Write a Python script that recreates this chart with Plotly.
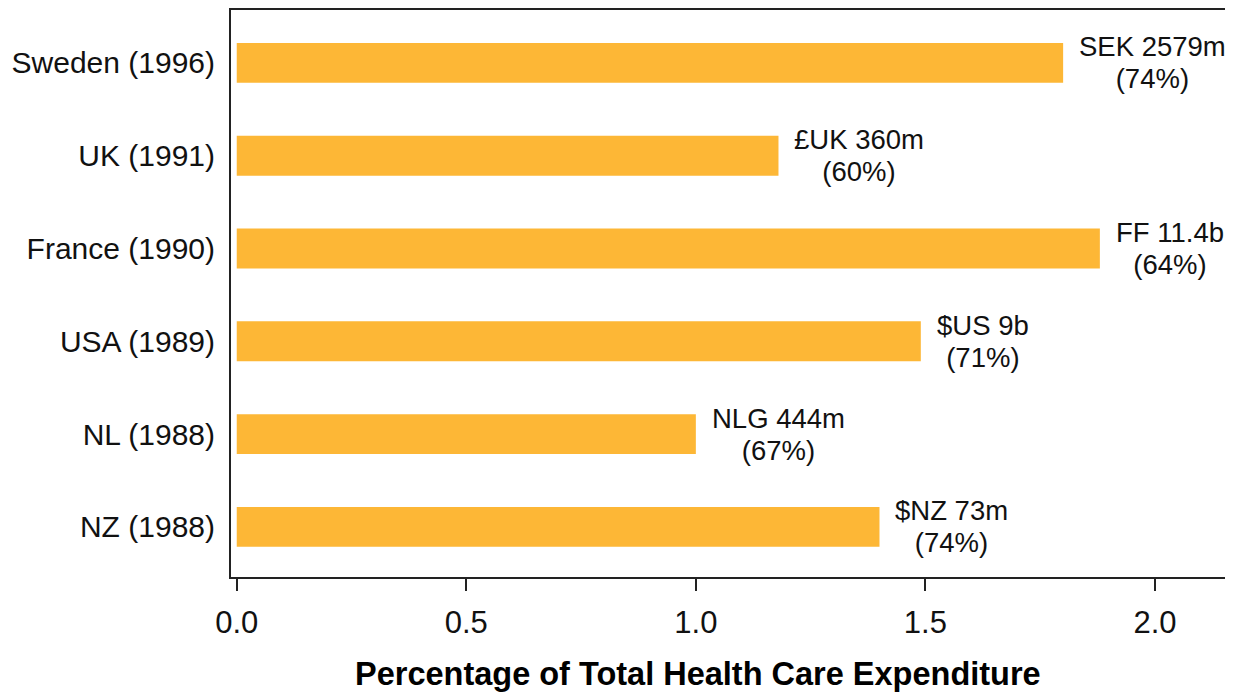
import plotly.graph_objects as go

countries = ['NZ (1988)', 'NL (1988)', 'USA (1989)', 'France (1990)', 'UK (1991)', 'Sweden (1996)']
pct_values = [1.40, 1.00, 1.49, 1.88, 1.18, 1.80]
amounts = ['$NZ 73m', 'NLG 444m', '$US 9b', 'FF 11.4b', '£UK 360m', 'SEK 2579m']
shares = ['(74%)', '(67%)', '(71%)', '(64%)', '(60%)', '(74%)']
x_ticks = [0.0, 0.5, 1.0, 1.5, 2.0]

BAR_COLOR = '#FDB736'
FONT = 'Liberation Sans, Arial, Helvetica, sans-serif'

########## Bars ##########
fig = go.Figure(
    go.Bar(
        x=pct_values,
        y=countries,
        orientation='h',
        width=0.43,
        marker=dict(color=BAR_COLOR, line=dict(width=0)),
        hoverinfo='skip'
    )
)

########## Value labels ##########
# base font a bit smaller so the two lines sit close together
for val, cat, amt, shr in zip(pct_values, countries, amounts, shares):
    fig.add_annotation(
        x=val,
        y=cat,
        xref='x',
        yref='y',
        text=f"<span style='font-size:27.5px'>{amt}</span><br>"
             f"<span style='font-size:27.5px'>{shr}</span>",
        showarrow=False,
        xanchor='left',
        yanchor='middle',
        align='center',
        xshift=14,
        font=dict(family=FONT, size=24.6, color='#111111')
    )

########## Axis title ##########
fig.add_annotation(
    text='<b>Percentage of Total Health Care Expenditure</b>',
    x=0.466,
    y=-0.171,
    xref='paper',
    yref='paper',
    showarrow=False,
    xanchor='center',
    yanchor='middle',
    font=dict(family=FONT, size=32.5, color='#000000')
)

# page body has ~8px margin, so the figure is a bit smaller than the window
fig.update_layout(
    width=1225,
    height=686,
    margin=dict(l=223, r=0, t=2, b=117),
    plot_bgcolor='white',
    paper_bgcolor='white',
    showlegend=False,
    font=dict(family=FONT, color='#000000'),
    xaxis=dict(
        range=[-0.0125, 2.17],
        tickvals=x_ticks,
        ticktext=[f'{v:.1f}' for v in x_ticks],
        ticks='outside',
        ticklen=12,
        tickwidth=2,
        tickcolor='#222222',
        ticklabelstandoff=5,
        tickfont=dict(size=31, color='#111111'),
        showgrid=False,
        zeroline=False,
        showline=True,
        linewidth=2,
        linecolor='#222222',
        mirror=True,
    ),
    yaxis=dict(
        categoryorder='array',
        categoryarray=countries,
        range=[-0.54, 5.57],
        ticks='',
        ticklabelstandoff=8,
        tickfont=dict(size=30, color='#111111'),
        showgrid=False,
        zeroline=False,
        showline=True,
        linewidth=2,
        linecolor='#222222',
        mirror=False,
    ),
)

fig.write_html('out.html')
